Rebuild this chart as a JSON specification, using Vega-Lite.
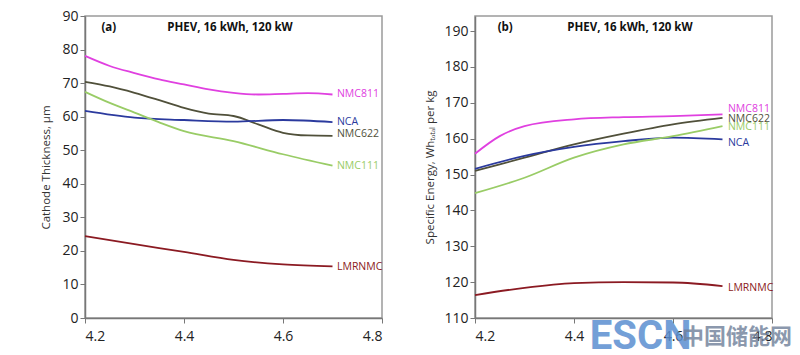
{
  "$schema": "https://vega.github.io/schema/vega-lite/v6.json",
  "padding": {"left": 40, "top": 8, "right": 5, "bottom": 5},
  "spacing": 93,
  "bounds": "flush",
  "config": {
    "font": "Open Sans",
    "view": {"stroke": "#9a9a9a", "strokeWidth": 1.5},
    "axis": {"grid": false, "domainColor": "#777777", "domainWidth": 1.5, "tickColor": "#777777", "tickSize": 5, "labelColor": "#222222", "labelFontSize": 14, "labelOverlap": false, "titleFontSize": 11.5, "titleFontWeight": "normal", "titleColor": "#333333"}
  },
  "datasets": {
    "thick": [
      {"s": "NMC811", "x": 4.2, "v": 78.1}, {"s": "NMC811", "x": 4.25, "v": 75.1}, {"s": "NMC811", "x": 4.3, "v": 73.0}, {"s": "NMC811", "x": 4.35, "v": 71.1}, {"s": "NMC811", "x": 4.4, "v": 69.6}, {"s": "NMC811", "x": 4.45, "v": 68.1}, {"s": "NMC811", "x": 4.5, "v": 67.1}, {"s": "NMC811", "x": 4.55, "v": 66.6}, {"s": "NMC811", "x": 4.6, "v": 66.8}, {"s": "NMC811", "x": 4.65, "v": 67.0}, {"s": "NMC811", "x": 4.7, "v": 66.6},
      {"s": "NMC622", "x": 4.2, "v": 70.4}, {"s": "NMC622", "x": 4.25, "v": 69.0}, {"s": "NMC622", "x": 4.3, "v": 67.1}, {"s": "NMC622", "x": 4.35, "v": 64.9}, {"s": "NMC622", "x": 4.4, "v": 62.6}, {"s": "NMC622", "x": 4.45, "v": 60.9}, {"s": "NMC622", "x": 4.5, "v": 60.2}, {"s": "NMC622", "x": 4.55, "v": 57.7}, {"s": "NMC622", "x": 4.6, "v": 55.2}, {"s": "NMC622", "x": 4.65, "v": 54.4}, {"s": "NMC622", "x": 4.7, "v": 54.3},
      {"s": "NCA", "x": 4.2, "v": 61.7}, {"s": "NCA", "x": 4.3, "v": 59.7}, {"s": "NCA", "x": 4.4, "v": 59.0}, {"s": "NCA", "x": 4.5, "v": 58.5}, {"s": "NCA", "x": 4.6, "v": 59.0}, {"s": "NCA", "x": 4.7, "v": 58.4},
      {"s": "NMC111", "x": 4.2, "v": 67.4}, {"s": "NMC111", "x": 4.25, "v": 64.1}, {"s": "NMC111", "x": 4.3, "v": 61.2}, {"s": "NMC111", "x": 4.35, "v": 58.3}, {"s": "NMC111", "x": 4.4, "v": 55.7}, {"s": "NMC111", "x": 4.5, "v": 52.7}, {"s": "NMC111", "x": 4.6, "v": 48.8}, {"s": "NMC111", "x": 4.7, "v": 45.4},
      {"s": "LMRNMC", "x": 4.2, "v": 24.4}, {"s": "LMRNMC", "x": 4.3, "v": 22.0}, {"s": "LMRNMC", "x": 4.4, "v": 19.7}, {"s": "LMRNMC", "x": 4.5, "v": 17.3}, {"s": "LMRNMC", "x": 4.6, "v": 16.0}, {"s": "LMRNMC", "x": 4.7, "v": 15.4}
    ],
    "energy": [
      {"s": "NMC811", "x": 4.2, "v": 155.8}, {"s": "NMC811", "x": 4.25, "v": 160.7}, {"s": "NMC811", "x": 4.3, "v": 163.5}, {"s": "NMC811", "x": 4.4, "v": 165.4}, {"s": "NMC811", "x": 4.5, "v": 166.0}, {"s": "NMC811", "x": 4.6, "v": 166.3}, {"s": "NMC811", "x": 4.7, "v": 166.8},
      {"s": "NMC622", "x": 4.2, "v": 151.0}, {"s": "NMC622", "x": 4.3, "v": 154.7}, {"s": "NMC622", "x": 4.4, "v": 158.4}, {"s": "NMC622", "x": 4.5, "v": 161.4}, {"s": "NMC622", "x": 4.6, "v": 164.0}, {"s": "NMC622", "x": 4.7, "v": 165.8},
      {"s": "NCA", "x": 4.2, "v": 151.6}, {"s": "NCA", "x": 4.3, "v": 155.2}, {"s": "NCA", "x": 4.4, "v": 157.7}, {"s": "NCA", "x": 4.5, "v": 159.3}, {"s": "NCA", "x": 4.6, "v": 160.3}, {"s": "NCA", "x": 4.7, "v": 159.8},
      {"s": "NMC111", "x": 4.2, "v": 144.8}, {"s": "NMC111", "x": 4.3, "v": 149.1}, {"s": "NMC111", "x": 4.4, "v": 154.7}, {"s": "NMC111", "x": 4.5, "v": 158.4}, {"s": "NMC111", "x": 4.6, "v": 160.7}, {"s": "NMC111", "x": 4.7, "v": 163.5},
      {"s": "LMRNMC", "x": 4.2, "v": 116.4}, {"s": "LMRNMC", "x": 4.3, "v": 118.4}, {"s": "LMRNMC", "x": 4.4, "v": 119.7}, {"s": "LMRNMC", "x": 4.5, "v": 120.0}, {"s": "LMRNMC", "x": 4.6, "v": 119.9}, {"s": "LMRNMC", "x": 4.7, "v": 118.9}
    ],
    "labelsA": [
      {"s": "NMC811", "x": 4.709, "v": 66.7}, {"s": "NCA", "x": 4.709, "v": 58.4}, {"s": "NMC622", "x": 4.709, "v": 54.8}, {"s": "NMC111", "x": 4.709, "v": 45.3}, {"s": "LMRNMC", "x": 4.709, "v": 15.2}
    ],
    "labelsB": [
      {"s": "NMC811", "x": 4.711, "v": 168.2}, {"s": "NMC622", "x": 4.711, "v": 165.6}, {"s": "NMC111", "x": 4.711, "v": 163.2}, {"s": "NCA", "x": 4.711, "v": 158.9}, {"s": "LMRNMC", "x": 4.711, "v": 118.4}
    ],
    "notesA": [
      {"t": "(a)", "x": 4.248, "v": 86.4}, {"t": "PHEV, 16 kWh, 120 kW", "x": 4.493, "v": 86.4}
    ],
    "notesB": [
      {"t": "(b)", "x": 4.261, "v": 190.8}, {"t": "PHEV, 16 kWh, 120 kW", "x": 4.513, "v": 190.8}
    ],
    "mark1": [{"t": "ESCN", "x": 4.432, "v": 104.8}],
    "mark2": [{"t": "中国储能网", "x": 4.618, "v": 104.8}]
  },
  "hconcat": [
    {
      "width": 297,
      "height": 302,
      "encoding": {
        "x": {"field": "x", "type": "quantitative", "scale": {"domain": [4.2, 4.8], "nice": false}, "axis": {"values": [4.2, 4.4, 4.6, 4.8], "format": ".1f", "title": null, "labelPadding": 6, "labelOverlap": false}},
        "y": {"field": "v", "type": "quantitative", "scale": {"domain": [0, 90], "nice": false}, "axis": {"values": [0, 10, 20, 30, 40, 50, 60, 70, 80, 90], "format": "d", "title": "Cathode Thickness, μm", "titlePadding": 10, "labelOverlap": false}}
      },
      "layer": [
        {
          "data": {"name": "thick"},
          "mark": {"type": "line", "interpolate": "monotone", "strokeWidth": 1.8},
          "encoding": {
            "color": {"field": "s", "type": "nominal", "legend": null, "scale": {"domain": ["NMC811", "NCA", "NMC622", "NMC111", "LMRNMC"], "range": ["#e040e0", "#2b3a9e", "#50503a", "#99cc66", "#8b1a22"]}},
            "detail": {"field": "s"}
          }
        },
        {
          "data": {"name": "labelsA"},
          "mark": {"type": "text", "align": "left", "baseline": "middle", "fontSize": 10.5},
          "encoding": {
            "text": {"field": "s"},
            "color": {"field": "s", "type": "nominal", "legend": null}
          }
        },
        {
          "data": {"name": "notesA"},
          "mark": {"type": "text", "align": "center", "baseline": "middle", "fontSize": 11.5, "fontWeight": "bold", "color": "#111111"},
          "encoding": {
            "text": {"field": "t"}
          }
        }
      ]
    },
    {
      "width": 297,
      "height": 302,
      "encoding": {
        "x": {"field": "x", "type": "quantitative", "scale": {"domain": [4.2, 4.8], "nice": false}, "axis": {"values": [4.2, 4.4, 4.6, 4.8], "format": ".1f", "title": null, "labelPadding": 6, "labelOverlap": false}},
        "y": {"field": "v", "type": "quantitative", "scale": {"domain": [110, 194.2], "nice": false, "zero": false}, "axis": {"values": [110, 120, 130, 140, 150, 160, 170, 180, 190], "format": "d", "title": "Specific Energy, Whₜₒₜₐₗ per kg", "titlePadding": 8, "labelOverlap": false}}
      },
      "layer": [
        {
          "data": {"name": "energy"},
          "mark": {"type": "line", "interpolate": "monotone", "strokeWidth": 1.8},
          "encoding": {
            "color": {"field": "s", "type": "nominal", "legend": null, "scale": {"domain": ["NMC811", "NCA", "NMC622", "NMC111", "LMRNMC"], "range": ["#e040e0", "#2b3a9e", "#50503a", "#99cc66", "#8b1a22"]}},
            "detail": {"field": "s"}
          }
        },
        {
          "data": {"name": "labelsB"},
          "mark": {"type": "text", "align": "left", "baseline": "middle", "fontSize": 10.5},
          "encoding": {
            "text": {"field": "s"},
            "color": {"field": "s", "type": "nominal", "legend": null}
          }
        },
        {
          "data": {"name": "notesB"},
          "mark": {"type": "text", "align": "center", "baseline": "middle", "fontSize": 11.5, "fontWeight": "bold", "color": "#111111"},
          "encoding": {
            "text": {"field": "t"}
          }
        },
        {
          "data": {"name": "mark1"},
          "mark": {"type": "text", "align": "left", "baseline": "middle", "fontSize": 40, "fontWeight": "bold", "font": "Roboto", "color": "#5b8fd1", "opacity": 0.85},
          "encoding": {
            "text": {"field": "t"}
          }
        },
        {
          "data": {"name": "mark2"},
          "mark": {"type": "text", "align": "left", "baseline": "middle", "fontSize": 22, "fontWeight": "bold", "font": "Noto Sans CJK SC", "color": "#6f7f99", "opacity": 0.8},
          "encoding": {
            "text": {"field": "t"}
          }
        }
      ]
    }
  ]
}
